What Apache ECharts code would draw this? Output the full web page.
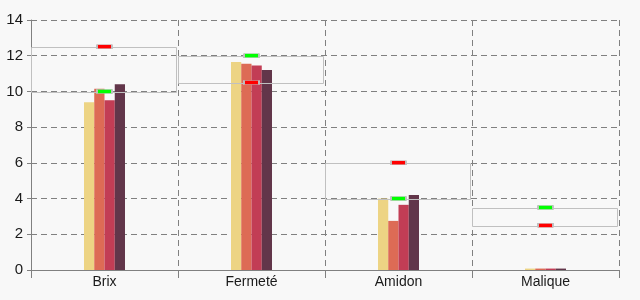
<!DOCTYPE html>
<html>
<head>
<meta charset="utf-8">
<script src="https://cdn.jsdelivr.net/npm/echarts@6/dist/echarts.min.js"></script>
<style>
html,body{margin:0;padding:0;background:#f8f8f8;}
#chart{width:640px;height:300px;}
</style>
</head>
<body>
<div id="chart"></div>
<script>
var categories = ['Brix', 'Fermeté', 'Amidon', 'Malique'];
var series1 = [9.4, 11.65, 4.0, 0.08];
var series2 = [10.15, 11.55, 2.75, 0.08];
var series3 = [9.5, 11.45, 3.65, 0.08];
var series4 = [10.4, 11.2, 4.2, 0.08];
var redMarks = [12.5, 10.5, 6, 2.5];
var greenMarks = [10, 12, 4, 3.5];
var rangeLow = [10, 10.5, 4, 2.5];
var rangeHigh = [12.5, 12, 6, 3.5];
var yTicks = [0, 2, 4, 6, 8, 10, 12, 14];

var barColors = ['#EDD484', '#DD6B55', '#C23D55', '#62364A'];
var boxData = categories.map(function (c, i) { return [i, rangeLow[i], rangeHigh[i]]; });

var chart = echarts.init(document.getElementById('chart'), null, {renderer: 'canvas'});
var dashed = {color: '#808080', type: [6, 4], width: 1};
function bar(name, data, color) {
  return {
    type: 'bar', name: name, data: data, barWidth: 10.25, barGap: '0%',
    itemStyle: {color: color}, z: 2
  };
}
chart.setOption({
  backgroundColor: '#f8f8f8',
  animation: false,
  grid: {left: 31, right: 21, top: 20, bottom: 30},
  xAxis: {
    type: 'category', data: categories,
    axisLine: {lineStyle: {color: '#808080', width: 1}},
    axisTick: {show: true, length: 8, lineStyle: {color: '#808080'}},
    axisLabel: {color: '#1a1a1a', fontSize: 14, fontFamily: 'Liberation Sans, Arial, sans-serif', margin: 5},
    splitLine: {show: true, lineStyle: dashed}
  },
  yAxis: {
    type: 'value', min: yTicks[0], max: yTicks[yTicks.length - 1], interval: 2,
    axisLine: {show: true, lineStyle: {color: '#808080', width: 1}},
    axisTick: {show: true, length: 4, lineStyle: {color: '#808080'}},
    axisLabel: {color: '#1a1a1a', fontSize: 15, fontFamily: 'Liberation Sans, Arial, sans-serif', margin: 8},
    splitLine: {show: true, lineStyle: dashed}
  },
  series: [
    bar('s1', series1, barColors[0]),
    bar('s2', series2, barColors[1]),
    bar('s3', series3, barColors[2]),
    bar('s4', series4, barColors[3]),
    {
      type: 'custom', data: boxData, z: 3,
      encode: {x: 0, y: [1, 2]},
      renderItem: function (params, api) {
        var top = api.coord([api.value(0), api.value(2)]);
        var bot = api.coord([api.value(0), api.value(1)]);
        var w = api.size([1, 0])[0];
        return {
          type: 'rect',
          shape: {x: Math.round(top[0] - w / 2) + 0.5, y: Math.round(top[1]) + 0.5, width: Math.round(w) - 2, height: Math.round(bot[1] - top[1])},
          style: {fill: 'none', stroke: '#c0c0c0', lineWidth: 1}
        };
      }
    },
    {
      type: 'scatter', data: redMarks, symbol: 'rect', symbolSize: [15, 4], z: 4,
      itemStyle: {color: '#ff0000', borderColor: '#c0c0c0', borderWidth: 1, opacity: 1}
    },
    {
      type: 'scatter', data: greenMarks, symbol: 'rect', symbolSize: [15, 4], z: 4,
      itemStyle: {color: '#00ff00', borderColor: '#c0c0c0', borderWidth: 1, opacity: 1}
    }
  ]
});
</script>
</body>
</html>
